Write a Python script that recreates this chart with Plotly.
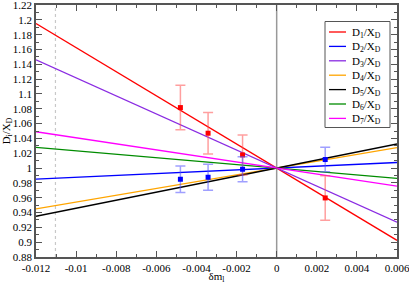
import plotly.graph_objects as go

# line endpoints (all fits pass through (0, 1))
line_x = [-0.012, 0.0, 0.006]
lines = {
    "D<sub>1</sub>/X<sub>D</sub>": [1.195, 1.0, 0.9025],
    "D<sub>2</sub>/X<sub>D</sub>": [0.985, 1.0, 1.0075],
    "D<sub>3</sub>/X<sub>D</sub>": [1.146, 1.0, 0.927],
    "D<sub>4</sub>/X<sub>D</sub>": [0.945, 1.0, 1.0275],
    "D<sub>5</sub>/X<sub>D</sub>": [0.935, 1.0, 1.0325],
    "D<sub>6</sub>/X<sub>D</sub>": [1.028, 1.0, 0.986],
    "D<sub>7</sub>/X<sub>D</sub>": [1.049, 1.0, 0.9755],
}
colors = ["#ff0000", "#0000ff", "#8a2be2", "#ffa500", "#000000", "#008c00", "#ff00ff"]

# data points
pts_x = [-0.0048, -0.00342, -0.0017, 0.00242]
red_y = [1.0816, 1.047, 1.0177, 0.9597]
red_err = [0.030, 0.028, 0.027, 0.030]
blue_y = [0.9849, 0.9876, 0.9984, 1.0115]
blue_err = [0.018, 0.0176, 0.017, 0.0165]

dotted_x = -0.01103

x_ticks = [-0.012, -0.01, -0.008, -0.006, -0.004, -0.002, 0, 0.002, 0.004, 0.006]
x_labels = ["-0.012", "-0.01", "-0.008", "-0.006", "-0.004", "-0.002", "0", "0.002", "0.004", "0.006"]
y_ticks = [0.88 + 0.02 * i for i in range(18)]
y_labels = ["0.88", "0.9", "0.92", "0.94", "0.96", "0.98", "1", "1.02", "1.04", "1.06",
            "1.08", "1.1", "1.12", "1.14", "1.16", "1.18", "1.2", "1.22"]

W, H = 409, 284
ML, MR, MT, MB = 36, 12, 5, 27
PW, PH = W - ML - MR, H - MT - MB


def px(x):
    return (x - ML) / PW


def py(y):
    return (H - MB - y) / PH


fig = go.Figure()
for (name, ys), c in zip(lines.items(), colors):
    fig.add_trace(go.Scatter(x=line_x, y=ys, mode="lines", name=name, showlegend=False,
                             line=dict(color=c, width=1.3)))

fig.add_trace(go.Scatter(x=pts_x, y=red_y, mode="markers", showlegend=False,
                         marker=dict(symbol="square", size=5, color="#ff0000"),
                         error_y=dict(type="data", array=red_err, color="rgba(255,80,80,0.55)",
                                      thickness=1.5, width=5)))
fig.add_trace(go.Scatter(x=pts_x, y=blue_y, mode="markers", showlegend=False,
                         marker=dict(symbol="square", size=5, color="#0000ff"),
                         error_y=dict(type="data", array=blue_err, color="rgba(80,80,255,0.55)",
                                      thickness=1.5, width=5)))

fig.add_shape(type="line", x0=0, x1=0, y0=0.88, y1=1.22, xref="x", yref="y",
              line=dict(color="#999999", width=1.5), layer="below")
fig.add_shape(type="line", x0=dotted_x, x1=dotted_x, y0=0.88, y1=1.22, xref="x", yref="y",
              line=dict(color="#c8c8c8", width=1.2, dash="dot"), layer="below")

# legend drawn as a box with sample lines and labels
fig.add_shape(type="rect", xref="paper", yref="paper",
              x0=px(325), x1=px(390), y0=py(127.5), y1=py(21.5),
              line=dict(color="#555555", width=1), fillcolor="white", layer="above")
for i, (name, c) in enumerate(zip(lines.keys(), colors)):
    yy = 32 + 14.4 * i
    fig.add_shape(type="line", xref="paper", yref="paper",
                  x0=px(329), x1=px(346), y0=py(yy), y1=py(yy),
                  line=dict(color=c, width=1.3), layer="above")
    fig.add_annotation(xref="paper", yref="paper", x=px(350), y=py(yy + 1),
                       xanchor="left", yanchor="middle", text=name, showarrow=False,
                       font=dict(family="Liberation Serif", size=11, color="#000"))

font = dict(family="Liberation Serif", size=11, color="#000000")
axis_common = dict(showgrid=False, zeroline=False, showline=True, linecolor="#555555",
                   linewidth=1.5, mirror="allticks", ticks="inside", ticklen=6,
                   tickcolor="#555555", tickwidth=1, tickfont=font, automargin=False,
                   ticklabeloverflow="allow")
fig.update_xaxes(range=[-0.012, 0.006], tickvals=x_ticks, ticktext=x_labels,
                 minor=dict(ticks="inside", ticklen=3, dtick=0.001, tickcolor="#555555"),
                 title=dict(text="δm<sub>l</sub>", font=font, standoff=0), **axis_common)
fig.update_yaxes(range=[0.88, 1.22], tickvals=y_ticks, ticktext=y_labels,
                 minor=dict(ticks="inside", ticklen=3, dtick=0.01, tickcolor="#555555"),
                 title=dict(text="D<sub>i</sub>/X<sub>D</sub>", font=font, standoff=0), **axis_common)

fig.update_layout(
    width=W, height=H, autosize=False,
    margin=dict(l=ML, r=MR, t=MT, b=MB),
    paper_bgcolor="white", plot_bgcolor="white",
    font=font, showlegend=False,
)
fig.write_html("out.html", config={"displayModeBar": False},
               post_script="document.body.style.margin='0';")
